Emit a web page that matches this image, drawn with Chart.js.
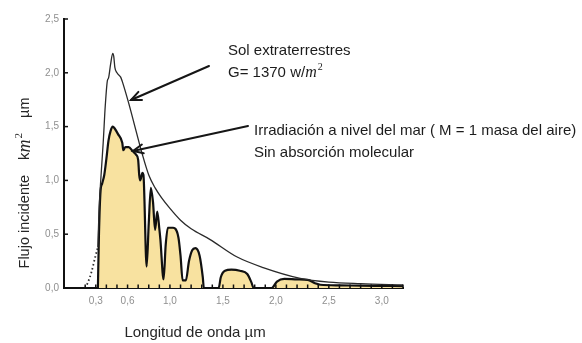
<!DOCTYPE html>
<html>
<head>
<meta charset="utf-8">
<script src="https://cdn.jsdelivr.net/npm/chart.js@4.4.1/dist/chart.umd.min.js"></script>
<style>
  html, body { margin: 0; padding: 0; background: #ffffff; }
  #wrap { width: 582px; height: 343px; position: relative; }
</style>
</head>
<body>
<div id="wrap"><canvas id="chart" width="582" height="343"></canvas></div>
<script>
// Spectral flux at sea level (M = 1), wavelength in µm
const seaLevelWavelength = [0.32, 0.33, 0.345, 0.36, 0.38, 0.40, 0.42, 0.44, 0.46, 0.48, 0.51, 0.55, 0.56, 0.58, 0.61, 0.65, 0.68, 0.70, 0.71, 0.72, 0.74, 0.75, 0.78, 0.80, 0.82, 0.84, 0.86, 0.88, 0.90, 0.91, 0.94, 0.96, 0.98, 1.03, 1.08, 1.10, 1.12, 1.15, 1.18, 1.21, 1.24, 1.28, 1.31, 1.32, 1.46, 1.48, 1.52, 1.58, 1.66, 1.73, 1.77, 1.79, 1.96, 2.01, 2.08, 2.20, 2.30, 2.37, 2.42, 2.60, 2.80, 3.00, 3.20];
const seaLevelFlux       = [0.00, 0.50, 0.90, 0.97, 1.05, 1.20, 1.37, 1.46, 1.50, 1.48, 1.43, 1.35, 1.28, 1.31, 1.31, 1.27, 1.24, 1.19, 1.05, 1.00, 1.07, 1.05, 0.20, 0.60, 0.93, 0.80, 0.54, 0.71, 0.55, 0.45, 0.08, 0.40, 0.56, 0.56, 0.47, 0.30, 0.07, 0.07, 0.25, 0.35, 0.37, 0.30, 0.10, 0.00, 0.00, 0.10, 0.16, 0.17, 0.16, 0.13, 0.05, 0.00, 0.00, 0.06, 0.085, 0.08, 0.075, 0.045, 0.03, 0.025, 0.022, 0.02, 0.018];

// Extraterrestrial solar spectrum
const extraWavelength = [0.32, 0.33, 0.35, 0.37, 0.39, 0.41, 0.42, 0.44, 0.46, 0.47, 0.48, 0.50, 0.535, 0.55, 0.61, 0.68, 0.74, 0.80, 0.86, 0.92, 1.00, 1.10, 1.20, 1.38, 1.63, 1.88, 2.23, 2.50, 2.80, 3.20];
const extraFlux       = [0.38, 0.70, 1.05, 1.35, 1.70, 1.93, 1.95, 2.08, 2.18, 2.15, 2.05, 2.00, 1.96, 1.92, 1.72, 1.46, 1.24, 1.05, 0.93, 0.84, 0.74, 0.63, 0.55, 0.45, 0.29, 0.19, 0.09, 0.055, 0.04, 0.028];

// Short-wave end of the extraterrestrial curve (dotted)
const extraTailWavelength = [0.20, 0.225, 0.26, 0.29, 0.32];
const extraTailFlux       = [0.00, 0.05, 0.15, 0.27, 0.38];

// Axis tick labels
const xTickValues = [0.3, 0.6, 1.0, 1.5, 2.0, 2.5, 3.0];
const yTickValues = [0.0, 0.5, 1.0, 1.5, 2.0, 2.5];

const toPoints = (xs, ys) => xs.map((x, i) => ({ x: x, y: ys[i] }));
const commaFmt = v => Number(v).toFixed(1).replace('.', ',');

// Text drawn in runs so that math-style symbols can use their own font
function richWidth(ctx, runs) {
  let w = 0;
  runs.forEach(r => { ctx.font = r.font; w += ctx.measureText(r.text).width + (r.gap || 0); });
  return w;
}
function drawRich(ctx, x, y, runs, align) {
  let cx = align === 'center' ? x - richWidth(ctx, runs) / 2 : x;
  runs.forEach(r => {
    ctx.font = r.font;
    ctx.fillText(r.text, cx, y + (r.dy || 0));
    cx += ctx.measureText(r.text).width + (r.gap || 0);
  });
}
function drawArrow(ctx, x0, y0, x1, y1) {
  ctx.save();
  ctx.strokeStyle = '#161616';
  ctx.lineWidth = 2;
  ctx.lineCap = 'round';
  ctx.beginPath();
  ctx.moveTo(x0, y0);
  ctx.lineTo(x1, y1);
  ctx.stroke();
  const a = Math.atan2(y1 - y0, x1 - x0);
  const len = 11, spread = 0.42;
  ctx.beginPath();
  ctx.moveTo(x1 - len * Math.cos(a - spread), y1 - len * Math.sin(a - spread));
  ctx.lineTo(x1, y1);
  ctx.lineTo(x1 - len * Math.cos(a + spread), y1 - len * Math.sin(a + spread));
  ctx.stroke();
  ctx.restore();
}

const decorations = {
  id: 'decorations',
  afterDraw(chart) {
    const ctx = chart.ctx;
    const xs = chart.scales.x, ys = chart.scales.y;
    const x0 = xs.getPixelForValue(0), y0 = ys.getPixelForValue(0);

    // Small inward tick marks along both axes
    ctx.save();
    ctx.strokeStyle = '#111';
    ctx.lineWidth = 1.5;
    for (let k = 2; k <= 32; k++) {
      const px = xs.getPixelForValue(k / 10);
      ctx.beginPath();
      ctx.moveTo(px, y0);
      ctx.lineTo(px, y0 - 3.5);
      ctx.stroke();
    }
    yTickValues.forEach(v => {
      const py = ys.getPixelForValue(v);
      ctx.beginPath();
      ctx.moveTo(x0, py);
      ctx.lineTo(x0 + 4, py);
      ctx.stroke();
    });
    ctx.restore();

    // Axis titles
    ctx.save();
    ctx.fillStyle = '#262626';
    ctx.textBaseline = 'middle';
    ctx.textAlign = 'left';
    drawRich(ctx, 195, 333, [{ text: 'Longitud de onda µm', font: '15px "Liberation Sans", Arial, sans-serif' }], 'center');

    ctx.translate(25, 183);
    ctx.rotate(-Math.PI / 2);
    drawRich(ctx, 0, 0, [
      { text: 'Flujo incidente', font: '14.5px "Liberation Sans", Arial, sans-serif', gap: 15 },
      { text: 'k', font: '15px "Liberation Sans", Arial, sans-serif' },
      { text: 'm', font: 'italic 18px "Liberation Serif", serif', gap: 1 },
      { text: '2', font: '11px "Liberation Serif", serif', dy: -6, gap: 15 },
      { text: 'µm', font: '14.5px "Liberation Sans", Arial, sans-serif' }
    ], 'center');
    ctx.restore();

    // Annotations
    ctx.save();
    ctx.fillStyle = '#1c1c1c';
    ctx.textBaseline = 'middle';
    ctx.textAlign = 'left';
    const sans = '15px "Liberation Sans", Arial, sans-serif';
    drawRich(ctx, 228, 51, [{ text: 'Sol extraterrestres', font: sans }], 'left');
    drawRich(ctx, 228, 73, [
      { text: 'G= 1370 w/', font: sans },
      { text: 'm', font: 'italic 16px "Liberation Serif", serif', gap: 1 },
      { text: '2', font: '10px "Liberation Serif", serif', dy: -6 }
    ], 'left');
    drawRich(ctx, 254, 131, [{ text: 'Irradiación a nivel del mar ( M = 1 masa del aire)', font: sans }], 'left');
    drawRich(ctx, 254, 153, [{ text: 'Sin absorción molecular', font: sans }], 'left');
    ctx.restore();

    drawArrow(ctx, 209, 66, 131, 100);
    drawArrow(ctx, 248, 126, 133, 151);
  }
};

new Chart(document.getElementById('chart'), {
  type: 'scatter',
  data: {
    datasets: [
      {
        label: 'Sol extraterrestres',
        data: toPoints(extraWavelength, extraFlux),
        showLine: true,
        borderColor: '#2a2a2a',
        borderWidth: 1.3,
        pointRadius: 0,
        cubicInterpolationMode: 'monotone',
        fill: false,
        order: 0
      },
      {
        label: 'Sol extraterrestres (UV)',
        data: toPoints(extraTailWavelength, extraTailFlux),
        showLine: true,
        borderColor: '#2a2a2a',
        borderWidth: 1.8,
        borderDash: [1.5, 2.5],
        pointRadius: 0,
        cubicInterpolationMode: 'monotone',
        fill: false,
        order: 1
      },
      {
        label: 'Nivel del mar',
        data: toPoints(seaLevelWavelength, seaLevelFlux),
        showLine: true,
        borderColor: '#111111',
        borderWidth: 2.2,
        backgroundColor: '#F8E2A0',
        pointRadius: 0,
        cubicInterpolationMode: 'monotone',
        fill: 'origin',
        order: 2
      }
    ]
  },
  options: {
    responsive: false,
    animation: false,
    devicePixelRatio: 1,
    layout: { padding: { top: 19, right: 179, left: 0, bottom: 0 } },
    plugins: { legend: { display: false }, tooltip: { enabled: false } },
    scales: {
      x: {
        type: 'linear',
        min: 0,
        max: 3.2,
        afterBuildTicks: s => { s.ticks = xTickValues.map(v => ({ value: v })); },
        afterFit: s => { s.height = 55; },
        ticks: {
          callback: v => commaFmt(v),
          color: '#8f8f8f',
          font: { size: 10, family: '"Liberation Sans", Arial, sans-serif' },
          padding: 7,
          maxRotation: 0,
          autoSkip: false
        },
        grid: { display: false, drawTicks: false },
        border: { display: true, color: '#111111', width: 2 }
      },
      y: {
        min: 0,
        max: 2.5,
        afterBuildTicks: s => { s.ticks = yTickValues.map(v => ({ value: v })); },
        afterFit: s => { s.width = 64; },
        ticks: {
          callback: v => commaFmt(v),
          color: '#8f8f8f',
          font: { size: 10, family: '"Liberation Sans", Arial, sans-serif' },
          padding: 5
        },
        grid: { display: false, drawTicks: false },
        border: { display: true, color: '#111111', width: 2 }
      }
    }
  },
  plugins: [decorations]
});
</script>
</body>
</html>
